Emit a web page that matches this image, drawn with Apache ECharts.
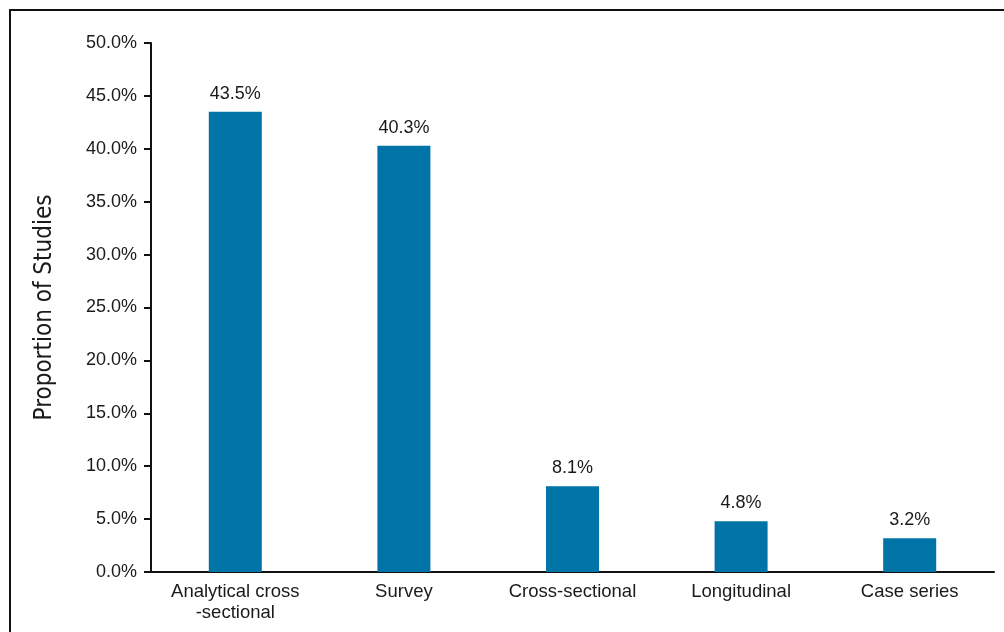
<!DOCTYPE html>
<html>
<head>
<meta charset="utf-8">
<script src="https://cdn.jsdelivr.net/npm/echarts@6/dist/echarts.min.js"></script>
<style>
html,body{margin:0;padding:0;background:#fff;}
#chart{width:1004px;height:632px;}
</style>
</head>
<body>
<div id="chart"></div>
<script>
const categories = ['Analytical cross\n-sectional', 'Survey', 'Cross-sectional', 'Longitudinal', 'Case series'];
const values = [43.5, 40.3, 8.1, 4.8, 3.2];
const yTicks = { min: 0, max: 50, interval: 5 };
const yAxisTitle = 'Proportion of Studies';

const chart = echarts.init(document.getElementById('chart'), null, { renderer: 'canvas' });
const textColor = '#1a1a1a';
const fontFamily = '"Liberation Sans", Arial, Helvetica, sans-serif';

chart.setOption({
  backgroundColor: '#ffffff',
  animation: false,
  graphic: [{
    type: 'polyline',
    shape: { points: [[10, 640], [10, 10], [1010, 10]] },
    style: { stroke: '#111', lineWidth: 2, fill: null },
    silent: true
  }],
  grid: { left: 151, right: 10, top: 43, bottom: 60 },
  xAxis: {
    type: 'category',
    data: categories,
    axisLine: { lineStyle: { color: '#111', width: 2 } },
    axisTick: { show: false },
    axisLabel: { color: textColor, fontSize: 18.5, fontFamily: fontFamily, margin: 9, lineHeight: 21, interval: 0 }
  },
  yAxis: {
    type: 'value',
    min: yTicks.min,
    max: yTicks.max,
    interval: yTicks.interval,
    name: yAxisTitle,
    nameLocation: 'middle',
    nameGap: 94,
    nameRotate: 90,
    nameTextStyle: { color: textColor, fontSize: 24, fontFamily: '"DejaVu Sans Condensed", "Liberation Sans Narrow", "Liberation Sans", sans-serif' },
    axisLine: { show: true, lineStyle: { color: '#111', width: 2 } },
    axisTick: { show: true, length: 7, lineStyle: { color: '#111', width: 2 } },
    splitLine: { show: false },
    axisLabel: {
      color: textColor, fontSize: 18, fontFamily: fontFamily, margin: 14,
      formatter: v => v.toFixed(1) + '%'
    }
  },
  series: [{
    type: 'bar',
    data: values,
    barWidth: 53,
    itemStyle: { color: '#0074a7' },
    label: {
      show: true, position: 'top', distance: 9,
      color: textColor, fontSize: 18, fontFamily: fontFamily,
      formatter: p => p.value.toFixed(1) + '%'
    }
  }]
});
</script>
</body>
</html>
